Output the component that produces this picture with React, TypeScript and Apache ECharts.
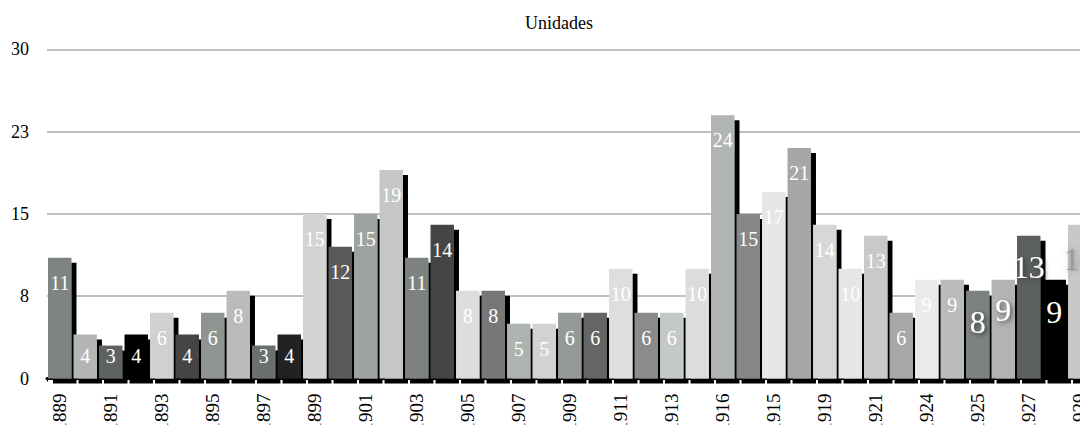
import React, { useEffect, useRef } from "react";
import * as echarts from "echarts";

// Years on the category axis (every other one is labelled)
const years: string[] = [
  "1889", "1890", "1891", "1892", "1893", "1894", "1895", "1896", "1897", "1898",
  "1899", "1900", "1901", "1902", "1903", "1904", "1905", "1906", "1907", "1908",
  "1909", "1910", "1911", "1912", "1913", "1914", "1916", "1917", "1915", "1918",
  "1919", "1920", "1921", "1922", "1924", "1923", "1925", "1926", "1927", "1928",
  "1929",
];

// Units per year
const unidades: number[] = [
  11, 4, 3, 4, 6, 4, 6, 8, 3, 4,
  15, 12, 15, 19, 11, 14, 8, 8, 5, 5,
  6, 6, 10, 6, 6, 10, 24, 15, 17, 21,
  14, 10, 13, 6, 9, 9, 8, 9, 13, 9,
  14,
];

// Fill of each bar
const barColors: string[] = [
  "#7e8581", "#b5b5b5", "#5f6461", "#000000", "#d0d0d0", "#444444", "#8e9490", "#bbbbbb", "#6b706d", "#222222",
  "#d4d4d4", "#5a5a5a", "#9da39f", "#c6c6c6", "#7d827f", "#454545", "#dcdcdc", "#777777", "#adb3af", "#d2d2d2",
  "#959a97", "#656565", "#dedede", "#8b8b8b", "#c4c8c6", "#dcdcdc", "#b0b4b2", "#878787", "#e6e6e6", "#a6a6a6",
  "#d5d8d6", "#e6e6e6", "#c8cac8", "#a8a8a8", "#ebebeb", "#bbbbbb", "#7b827e", "#b3b3b3", "#5b605d", "#000000",
  "#c8c8c8",
];

// Y axis scale
const yMin = 0;
const yMax = 30;
const yStep = 7.5;

const SERIF = "'Liberation Serif', 'Times New Roman', serif";

function labelFor(index: number, value: number): any {
  const base: any = {
    show: true,
    color: "#ffffff",
    fontFamily: SERIF,
    fontSize: 20,
    position: value <= 4 ? "insideBottom" : "insideTop",
    distance: value <= 4 ? 13 : 15,
  };
  const soft = {
    textShadowColor: "rgba(40,40,40,0.75)",
    textShadowBlur: 4,
    textShadowOffsetX: 2,
    textShadowOffsetY: 2,
  };
  switch (index) {
    case 36:
      return { ...base, fontSize: 32, distance: 15, ...soft };
    case 37:
      return { ...base, fontSize: 32, distance: 14, ...soft };
    case 38:
      return { ...base, fontSize: 32, distance: 15, ...soft };
    case 39:
      return { ...base, fontSize: 32, distance: 16 };
    case 40:
      return {
        ...base,
        fontSize: 32,
        distance: 18,
        color: "rgba(150,150,150,0.85)",
        textShadowColor: "rgba(110,110,110,0.9)",
        textShadowBlur: 6,
      };
    default:
      return base;
  }
}

export default function App() {
  const ref = useRef<HTMLDivElement>(null);

  useEffect(() => {
    if (!ref.current) return;
    const chart = echarts.init(ref.current, null, { renderer: "svg" });

    const data = unidades.map((v, i) => ({
      value: v,
      itemStyle: { color: barColors[i] },
      label: labelFor(i, v),
    }));

    chart.setOption({
      animation: false,
      backgroundColor: "#ffffff",
      title: {
        text: "Unidades",
        left: "center",
        top: 14,
        padding: 0,
        textStyle: {
          fontFamily: SERIF,
          fontSize: 18,
          fontWeight: "normal",
          color: "#000000",
        },
      },
      grid: {
        left: 47,
        right: 25.5,
        top: 49.3,
        height: 329.2,
        containLabel: false,
      },
      xAxis: {
        type: "category",
        data: years,
        axisLine: { show: true, lineStyle: { color: "#000000", width: 3 } },
        axisTick: { show: true, length: 3, lineStyle: { color: "#000000", width: 1 } },
        axisLabel: {
          interval: 1,
          rotate: 90,
          margin: 15,
          fontSize: 19,
          fontFamily: SERIF,
          color: "#000000",
        },
        splitLine: { show: false },
      },
      yAxis: {
        type: "value",
        min: yMin,
        max: yMax,
        interval: yStep,
        axisLine: { show: false },
        axisTick: { show: false },
        axisLabel: {
          margin: 18,
          fontSize: 18,
          fontFamily: SERIF,
          color: "#000000",
          formatter: (v: number) => String(Math.round(v)),
        },
        splitLine: { show: true, lineStyle: { color: "#bfbfbf", width: 2 } },
      },
      series: [
        {
          type: "bar",
          name: "Unidades",
          data,
          barCategoryGap: "8%",
          itemStyle: {
            shadowColor: "#000000",
            shadowBlur: 0,
            shadowOffsetX: 5,
            shadowOffsetY: 5,
          },
        },
      ],
    });

    return () => {
      chart.dispose();
    };
  }, []);

  return (
    <div
      style={{
        position: "fixed",
        left: 0,
        top: 0,
        width: 1080,
        height: 425,
        overflow: "hidden",
        background: "#ffffff",
      }}
    >
      <div ref={ref} style={{ width: 1118, height: 440 }} />
    </div>
  );
}
